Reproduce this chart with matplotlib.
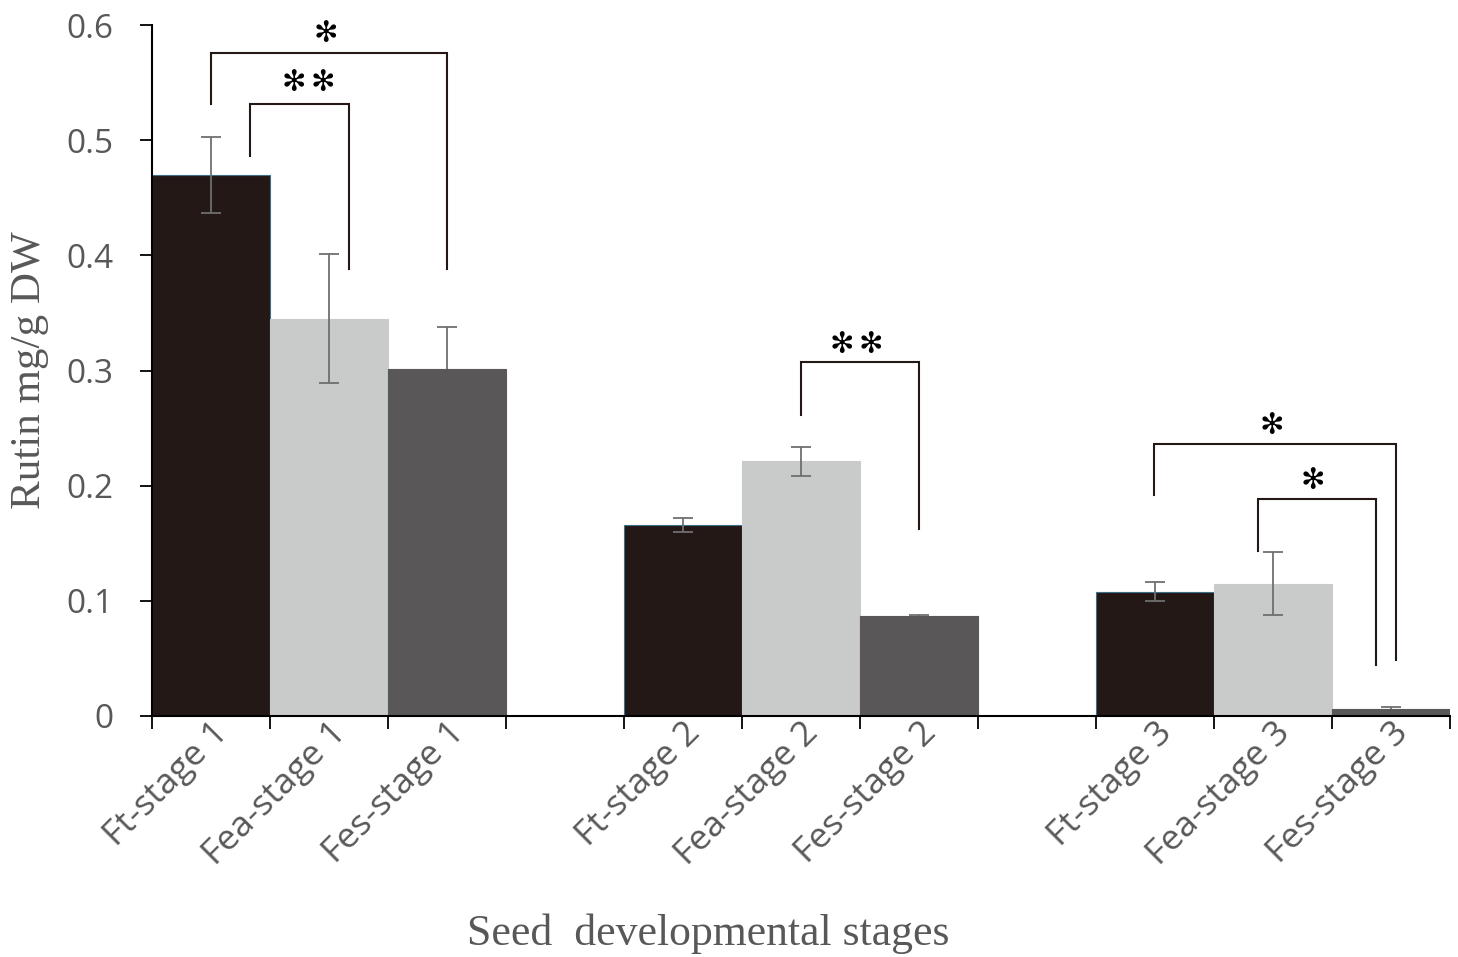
import matplotlib
matplotlib.use("Agg")
import matplotlib.pyplot as plt
import numpy as np

# ---- data ----
varieties = ["Ft", "Fea", "Fes"]
stages = ["stage 1", "stage 2", "stage 3"]
stage1_vals = [0.470, 0.345, 0.301]
stage2_vals = [0.166, 0.221, 0.087]
stage3_vals = [0.108, 0.115, 0.006]
stage1_err = [0.033, 0.056, 0.037]
stage2_err = [0.006, 0.013, 0.001]
stage3_err = [0.008, 0.027, 0.002]
yticks = [0, 0.1, 0.2, 0.3, 0.4, 0.5, 0.6]
ytick_labels = ["0", "0.1", "0.2", "0.3", "0.4", "0.5", "0.6"]

# significance brackets: (x_left, x_right, y_top, y_left_end, y_right_end, star_xs, star_y)
brackets = [
    (0.0, 2.0, 0.576, 0.531, 0.388, [0.97], 0.592),
    (0.33, 1.17, 0.531, 0.486, 0.388, [0.70, 0.945], 0.550),
    (5.0, 6.0, 0.307, 0.261, 0.162, [5.345, 5.59], 0.322),
    (7.99, 10.04, 0.236, 0.192, 0.049, [8.99], 0.252),
    (8.87, 9.87, 0.188, 0.143, 0.044, [9.34], 0.204),
]

colors = ["#231816", "#c9caca", "#595757"]
edgecolors = ["#3f6f8a", "#c9caca", "#595757"]
text_gray = "#595757"

fig = plt.figure(figsize=(14.58, 9.57), dpi=100)
ax = fig.add_axes([152/1458, 241/957, 1298/1458, 691/957])

all_vals = [stage1_vals, stage2_vals, stage3_vals]
all_errs = [stage1_err, stage2_err, stage3_err]
positions = []
labels = []
for g, (vals, errs) in enumerate(zip(all_vals, all_errs)):
    for k in range(3):
        x = g * 4 + k
        positions.append(x)
        labels.append(f"{varieties[k]}-{stages[g]}")
        ax.bar(x, vals[k], width=1.0, color=colors[k], edgecolor=edgecolors[k],
               linewidth=0.8, zorder=2)
        ez = 1 if k == 2 else 3
        ax.errorbar(x, vals[k], yerr=errs[k], fmt="none", ecolor="#6f6f6f",
                    elinewidth=1.3, capsize=7.5, capthick=1.3, zorder=ez)

for (xl, xr, yt, yle, yre, sxs, sy) in brackets:
    ax.plot([xl, xl, xr, xr], [yle, yt, yt, yre], color="#231815", lw=1.5,
            solid_joinstyle="miter", zorder=4, clip_on=False)
    for sx in sxs:
        ax.text(sx, sy, "\u273B", ha="center", va="center", fontsize=21,
                family="DejaVu Sans", color="black")

ax.set_xlim(-0.5, 10.5)
ax.set_ylim(0, 0.6)

for s in ["top", "right"]:
    ax.spines[s].set_visible(False)
for s in ["left", "bottom"]:
    ax.spines[s].set_linewidth(1.5)
    ax.spines[s].set_color("black")

ax.set_yticks(yticks)
ax.set_yticklabels(ytick_labels, family="Open Sans", fontsize=24, color=text_gray)
ax.tick_params(axis="y", direction="out", length=9, width=1.3, pad=19)

ax.set_xticks(positions)
ax.set_xticklabels(labels, family="Open Sans", fontsize=25.5, color=text_gray,
                   rotation=45, ha="right", va="top", rotation_mode="anchor")
ax.tick_params(axis="x", which="major", length=0, pad=0)
ax.set_xticks(np.arange(-0.5, 11.0, 1.0), minor=True)
ax.tick_params(axis="x", which="minor", direction="out", length=9, width=1.3)

fig.text(29.5/1458, 1 - 370/957, "Rutin mg/g DW", rotation=90, ha="center",
         va="center", family="Liberation Serif", fontsize=31, color=text_gray)
fig.text(708/1458, 1 - 945/957, "Seed  developmental stages", ha="center",
         va="baseline", family="Liberation Serif", fontsize=31.5, color=text_gray)

fig.savefig("out.png", dpi=100)
